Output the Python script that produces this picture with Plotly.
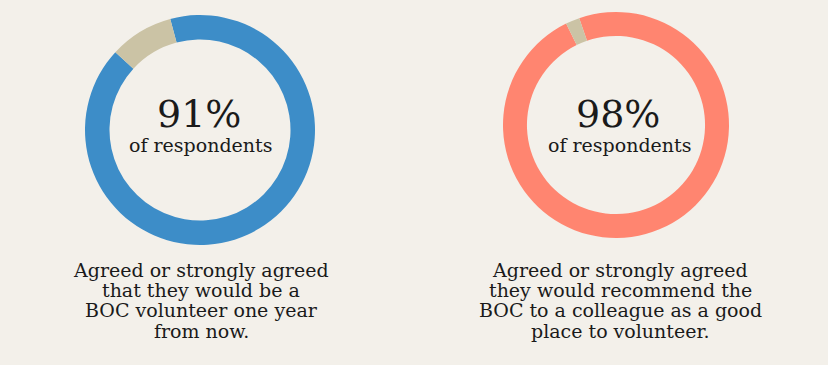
import plotly.graph_objects as go

W, H = 828, 365

# Data
segments = ["Agreed", "Other"]
left_values = [91, 9]
right_values = [98, 2]
left_label = "91%"
right_label = "98%"
sub_label = "of respondents"
left_caption = ["Agreed or strongly agreed", "that they would be a",
                "BOC volunteer one year", "from now."]
right_caption = ["Agreed or strongly agreed", "they would recommend the",
                 "BOC to a colleague as a good", "place to volunteer."]

left_colors = ["#3d8dc8", "#cbc3a5"]
right_colors = ["#ff8570", "#cbc3a5"]
bg = "#f3f0ea"
font_family = "DejaVu Serif"
text_color = "#1a1a1a"


def dom(cx, cy, r):
    return dict(x=[(cx - r) / W, (cx + r) / W],
                y=[1 - (cy + r) / H, 1 - (cy - r) / H])


fig = go.Figure()
fig.add_trace(go.Pie(labels=segments, values=left_values, hole=0.787,
                     sort=False, direction="clockwise", rotation=-15,
                     marker=dict(colors=left_colors, line=dict(width=0)),
                     textinfo="none", hoverinfo="skip", showlegend=False,
                     domain=dom(200, 130, 115)))
fig.add_trace(go.Pie(labels=segments, values=right_values, hole=0.788,
                     sort=False, direction="clockwise", rotation=-19,
                     marker=dict(colors=right_colors, line=dict(width=0)),
                     textinfo="none", hoverinfo="skip", showlegend=False,
                     domain=dom(616, 125, 113)))

annotations = []


def add_text(txt, cx, cy, size):
    annotations.append(dict(text=txt, x=cx / W, y=1 - cy / H, xref="paper", yref="paper",
                            xanchor="center", yanchor="middle", showarrow=False,
                            font=dict(family=font_family, size=size, color=text_color)))


add_text(left_label, 199, 114, 38)
add_text(sub_label, 200, 145, 19)
add_text(right_label, 618, 114, 38)
add_text(sub_label, 619, 145, 19)

line_mid0 = 269.5
spacing = 20.4
for i, line in enumerate(left_caption):
    add_text(line, 201, line_mid0 + i * spacing, 19)
for i, line in enumerate(right_caption):
    add_text(line, 620, line_mid0 + i * spacing, 19)

fig.update_layout(width=W, height=H, margin=dict(l=0, r=0, t=0, b=0),
                  paper_bgcolor=bg, plot_bgcolor=bg, annotations=annotations)

fig.write_html("out.html")
